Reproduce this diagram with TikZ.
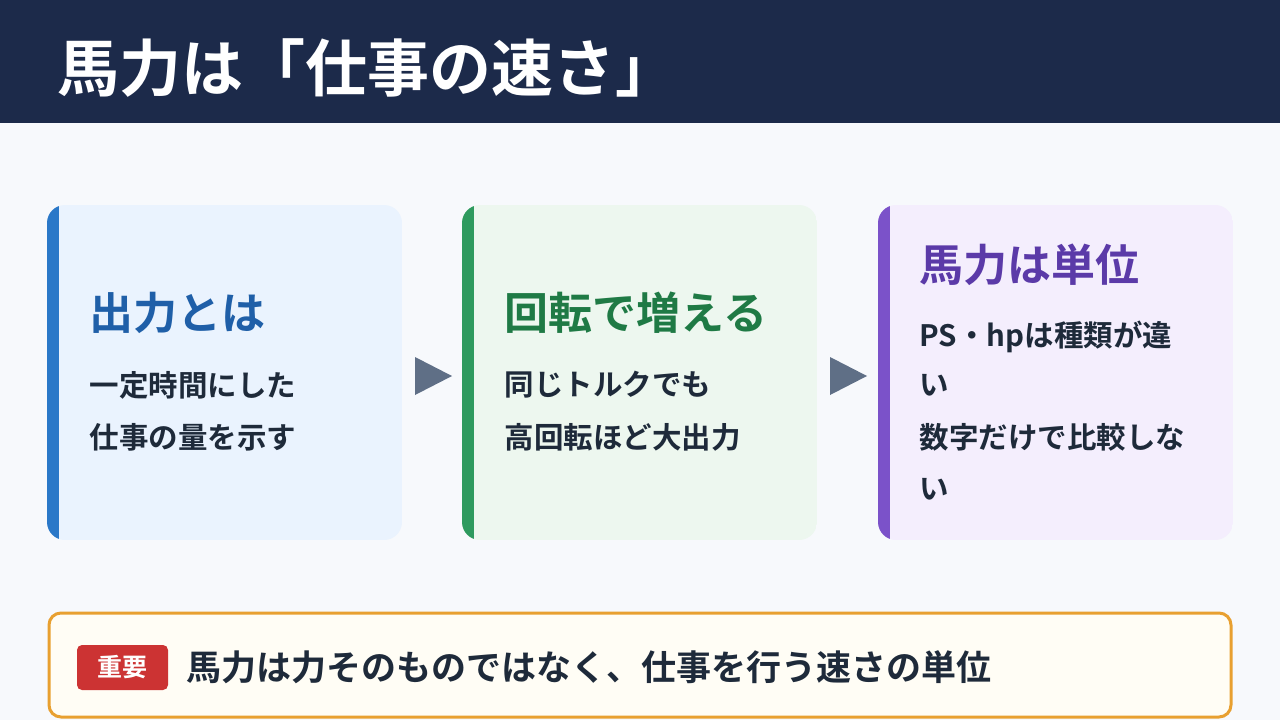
\documentclass[tikz,border=0pt]{standalone}
\usepackage{fontspec}
\setmainfont{Noto Sans CJK JP}[BoldFont={* Bold}]
\usepackage{xcolor}
\usetikzlibrary{positioning}
\definecolor{navy}{HTML}{1C2A4A}
\definecolor{pagebg}{HTML}{F7F9FC}
\definecolor{ink}{HTML}{1E2A3A}
\definecolor{arrowgray}{HTML}{5F6F86}
\definecolor{blueA}{HTML}{2A78C8}\definecolor{blueB}{HTML}{EAF3FE}\definecolor{blueC}{HTML}{1F5FA8}
\definecolor{greenA}{HTML}{2E9A5E}\definecolor{greenB}{HTML}{EDF7EF}\definecolor{greenC}{HTML}{1F7A45}
\definecolor{purpA}{HTML}{7B52C9}\definecolor{purpB}{HTML}{F4EEFD}\definecolor{purpC}{HTML}{5B3AA8}
\definecolor{orangeA}{HTML}{E8A030}\definecolor{noteB}{HTML}{FFFDF5}
\definecolor{tagred}{HTML}{CC3333}
\tikzset{
  heading/.style={anchor=west, font=\fontsize{44}{50}\selectfont\bfseries},
  body/.style={anchor=west, text=ink, font=\fontsize{29.5}{34}\selectfont\bfseries},
}
\begin{document}
\begin{tikzpicture}[x=1pt,y=-1pt]
\useasboundingbox (0,0) rectangle (1280,720);
\fill[pagebg] (0,0) rectangle (1280,720);
\fill[navy] (0,0) rectangle (1280,123);
\node[anchor=west, text=white, font=\fontsize{62}{68}\selectfont\bfseries] (title) at (54,68) {馬力は「仕事の速さ」};

% cards: x-left, colours
\foreach \x/\ca/\cb in {47/blueA/blueB, 462/greenA/greenB, 878/purpA/purpB} {
  \begin{scope}
    \clip[rounded corners=18] (\x,205) rectangle (\x+355,540);
    \fill[\cb] (\x,205) rectangle (\x+355,540);
    \fill[\ca] (\x,205) rectangle (\x+12,540);
  \end{scope}
}

% card 1
\node[heading, text=blueC] (h1) at (86,313) {出力とは};
\node[body] (b1a) at (86,385) {一定時間にした};
\node[body] (b1b) at (86,437) {仕事の量を示す};
% card 2
\node[heading, text=greenC] (h2) at (501,313) {回転で増える};
\node[body] (b2a) at (501,385) {同じトルクでも};
\node[body] (b2b) at (501,437) {高回転ほど大出力};
% card 3
\node[heading, text=purpC] (h3) at (916,265) {馬力は単位};
\node[body] (b3a) at (916,337) {PS・hpは種類が違};
\node[body] (b3b) at (916,385) {い};
\node[body] (b3c) at (916,437) {数字だけで比較しな};
\node[body] (b3d) at (916,489) {い};

% arrows
\fill[arrowgray] (415,357) -- (452,376) -- (415,395) -- cycle;
\fill[arrowgray] (830,357) -- (867,376) -- (830,395) -- cycle;

% note box
\draw[orangeA, line width=3pt, fill=noteB, rounded corners=12] (49,613) rectangle (1231,717);
\fill[tagred, rounded corners=5] (77,645) rectangle (168,690);
\node[text=white, font=\fontsize{25}{30}\selectfont\bfseries] (tag) at (122.5,667.5) {重要};
\node[anchor=west, text=ink, font=\fontsize{35}{40}\selectfont\bfseries] (note) at (183,667) {馬力は力そのものではなく、仕事を行う速さの単位};
\end{tikzpicture}
\end{document}
